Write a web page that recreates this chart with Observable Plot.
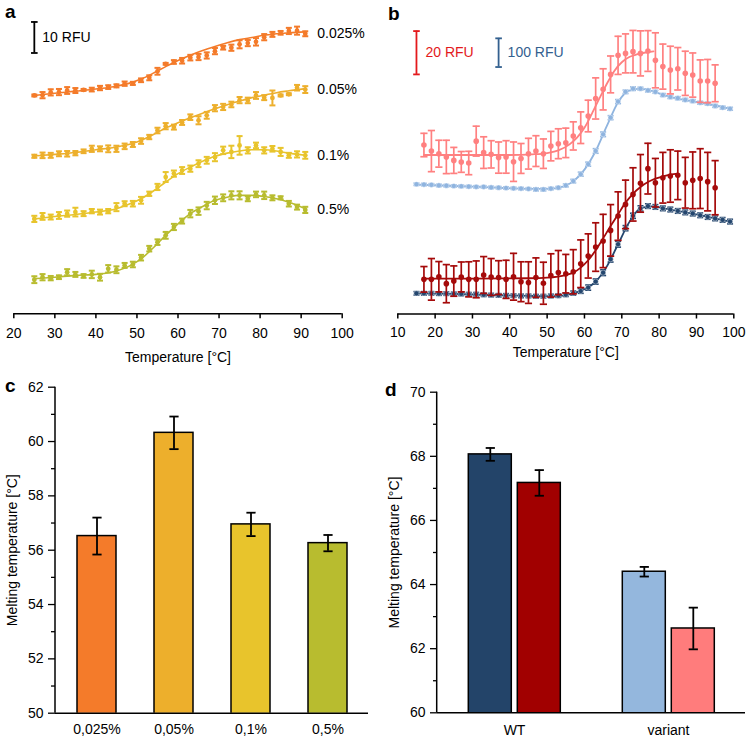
<!DOCTYPE html>
<html><head><meta charset="utf-8">
<script src="https://cdn.jsdelivr.net/npm/d3@7"></script>
<script src="https://cdn.jsdelivr.net/npm/@observablehq/plot@0.6"></script>
<style>
body{margin:0;background:#fff;font-family:"Liberation Sans",Arial,sans-serif;}
#wrap{position:relative;width:750px;height:742px;overflow:hidden;background:#fff;}
.panel{position:absolute;}
.letter{position:absolute;font-weight:bold;font-size:19px;line-height:19px;color:#000;}
</style></head><body>
<div id="wrap">
  <div class="panel" id="pa" style="left:0;top:0"></div>
  <div class="panel" id="pb" style="left:375px;top:0"></div>
  <div class="panel" id="pc" style="left:0;top:370px"></div>
  <div class="panel" id="pd" style="left:375px;top:370px"></div>
  <div class="letter" style="left:5px;top:2px">a</div>
  <div class="letter" style="left:388px;top:4px">b</div>
  <div class="letter" style="left:5px;top:376px">c</div>
  <div class="letter" style="left:385px;top:380px">d</div>
</div>
<script>
// ---------- Panel a data (RFU, stacked as displayed) ----------
const concA = ["0.025%", "0.05%", "0.1%", "0.5%"];
const tempsA = [25,27,29,31,33,35,37,39,41,43,45,47,49,51,53,55,57,59,61,63,65,67,69,71,73,75,77,79,81,83,85,87,89,91];
const a025 = [70.4,70.5,71.4,71.5,72.0,72.0,72.2,72.3,72.8,73.1,73.5,74.2,74.3,75.3,76.1,78.2,80.6,81.2,81.6,82.6,82.8,83.3,84.7,85.8,85.8,86.9,87.3,87.7,89.2,90.1,90.6,91.2,91.3,90.3];
const a05  = [50.8,51.1,51.1,51.6,51.6,51.8,52.4,53.2,53.2,53.2,53.2,54.0,54.6,55.7,57.0,59.1,60.5,60.2,61.7,63.4,62.4,64.0,66.3,66.7,67.5,68.9,68.8,70.4,69.7,69.6,70.4,70.8,72.9,72.3];
const a01  = [30.6,31.4,31.2,31.7,32.3,32.8,32.3,33.1,32.8,33.1,34.4,35.5,35.5,36.6,38.7,40.9,44.1,45.2,46.2,46.8,48.4,49.5,50.5,52.7,52.2,54.3,52.7,54.3,52.7,53.2,52.2,51.1,51.4,51.1];
const a5   = [11.0,11.8,11.5,11.8,13.4,12.7,12.2,12.7,11.8,14.5,14.2,15.6,15.9,18.1,21.0,23.1,25.3,28.0,29.9,32.3,33.1,34.9,36.6,37.4,38.2,38.2,37.1,38.5,38.2,37.4,37.4,35.5,34.4,33.5];
const e025 = [0.3,1.0,1.0,1.0,1.1,0.8,0.3,0.6,0.7,0.6,0.5,0.7,0.5,0.6,0.8,1.1,0.3,0.6,0.9,0.9,1.0,1.0,1.0,0.6,1.0,1.3,1.0,1.2,1.0,0.8,0.6,1.0,1.3,0.8];
const e05  = [0.5,0.9,0.8,0.8,0.9,0.7,0.6,1.0,0.8,1.1,1.0,0.9,0.8,0.9,0.7,0.9,1.0,0.8,0.8,0.9,1.3,1.1,1.0,1.0,0.9,1.0,0.9,1.1,0.8,2.4,0.3,0.3,0.9,1.1];
const e01  = [1.0,1.1,0.8,1.1,1.0,1.4,0.8,0.7,0.8,0.7,1.3,0.8,0.9,1.1,0.7,1.0,1.6,1.0,1.1,1.0,1.1,1.1,1.3,1.2,2.0,3.0,1.0,0.9,1.0,0.9,1.3,0.8,1.0,1.1];
const e5   = [1.1,1.0,0.7,0.6,1.0,0.8,0.6,1.2,1.1,1.2,1.1,0.8,0.9,0.9,0.9,0.9,1.1,1.0,0.8,1.2,1.2,1.2,1.2,1.1,1.3,1.3,0.8,0.9,1.2,0.8,0.5,0.9,0.8,1.0];
const fitTA  = [25,30,35,40,45,48,51,54,57,60,63,66,69,72,75,78,81,84,87,91];
const fit025 = [70.4,71.1,71.8,72.5,73.4,74.3,75.7,77.6,79.7,81.7,83.4,84.9,86.2,87.4,88.4,89.1,89.8,90.3,90.6,90.9];
const fit05  = [50.9,51.4,52.0,52.9,53.8,54.6,55.9,57.8,59.9,61.6,63.2,64.7,66.1,67.4,68.6,69.7,70.5,71.3,71.9,72.6];
const fit01  = [30.6,31.4,32.0,32.8,33.9,35.3,37.1,39.6,42.5,45.2,47.3,49.2,50.8,51.8,52.5,52.9,52.9,52.5,51.8,51.1];
const fit5   = [11.3,11.8,12.4,12.7,13.8,15.3,17.7,21.3,25.3,29.0,32.3,34.6,36.6,37.6,38.2,38.2,37.8,37.1,36.0,33.9];
const ticksA = [20,30,40,50,60,70,80,90,100];
const scaleBarA = {t: 25, base: 84.1, len: 10, label: "10 RFU"};

// ---------- Panel b data ----------
const tempsBred  = [17,19,21,23,25,27,29,31,33,35,37,39,41,43,45,47,49,51,53,55,57,59,61,63,65,67,69,71,73,75,77,79,81,83,85,87,89,91,93,95];
const tempsBblue = [15,17,19,21,23,25,27,29,31,33,35,37,39,41,43,45,47,49,51,53,55,57,59,61,63,65,67,69,71,73,75,77,79,81,83,85,87,89,91,93,95,97,99];
// red dye (20 RFU scale bar)
const redVariant = [78.0,75.2,74.0,72.5,70.9,70.2,69.7,79.8,74.5,73.7,72.2,72.5,70.3,71.8,74.0,75.2,74.0,77.5,78.6,79.0,82.2,86.0,91.4,99.5,103.7,110.6,119.4,120.3,121.1,120.3,121.4,117.1,114.2,112.6,113.2,111.1,110.3,107.5,107.5,106.5];
const redVariantErr = [5.4,9.5,6.2,7.7,6.0,4.8,5.4,6.9,7.3,6.3,7.2,7.5,9.1,6.9,7.1,7.1,6.8,6.8,6.9,6.8,6.5,7.3,7.3,9.5,9.5,8.5,8.8,9.0,9.8,10.4,9.4,12.7,10.4,11.0,9.8,10.2,10.2,9.8,10.0,8.5];
const redWT = [16.0,16.0,17.2,14.0,15.2,17.1,16.0,16.0,18.0,17.1,16.8,16.0,17.2,14.9,14.5,16.8,14.2,17.8,19.1,18.6,19.5,23.2,26.8,30.9,33.7,38.6,45.2,50.6,55.2,60.3,67.1,60.6,62.9,63.7,64.0,60.6,61.7,62.5,61.1,58.3];
const redWTErr = [5.9,9.6,7.0,8.8,7.0,6.9,8.1,8.5,8.5,8.5,7.8,8.8,10.8,9.2,9.6,9.1,9.7,10.0,10.2,8.9,10.2,11.0,10.2,11.2,12.3,11.9,11.2,11.2,12.3,13.3,11.7,11.2,11.7,12.1,11.2,11.7,13.1,13.8,13.5,12.5];
// blue dye (100 RFU scale bar)
const blueVariant = [452,451,450,448,447,446,445,444,443,443,441,440,439,438,437,436,434,434,437,440,448,463,487,522,568,626,684,740,774,785,785,779,774,763,756,752,746,742,736,733,725,719,715];
const blueVariantErr = [4,4,4,4,4,4,4,4,4,4,4,4,4,4,4,4,5,5,4,4,5,6,7,7,8,8,7,7,6,6,5,5,5,5,5,5,5,5,5,5,5,5,5];
const blueWT = [72,72,72,71,71,70,70,69,69,67,66,65,65,64,63,63,62,62,63,64,67,73,80,92,113,144,191,243,299,342,368,376,373,368,364,359,354,350,344,338,333,328,322];
const blueWTErr = [6,6,6,6,6,6,6,6,6,6,6,6,6,6,6,6,6,6,6,6,6,7,8,9,9,10,10,10,9,9,9,8,8,8,8,8,8,8,8,8,8,8,8];
const fitTredVariant = [17,30,40,46,50,53,56,58,60,62,64,66,68,70,72,74,76,78.5];
const fitRedVariant  = [73.4,73.4,73.4,73.7,74.3,75.5,78.3,81.4,86.0,92.5,99.5,106.3,112.2,116.2,118.6,119.8,120.6,121.2];
const fitTredWT = [17,30,45,50,55,57,59,61,63,65,67,69,71,73,75,77,79,81,83,85];
const fitRedWT  = [16.3,16.3,16.5,16.8,18.0,19.1,21.4,24.8,29.4,34.9,40.6,46.0,51.4,55.5,58.6,60.9,62.5,63.5,64.3,64.8];
const fitTblue = [15,25,35,45,50,54,57,60,63,66,69,72,75,78,82,86,90,94,99];
const fitBlueVariant = [451,446,441,436,436,443,462,503,568,655,738,778,785,777,760,748,739,729,715];
const fitBlueWT      = [72,70,66,63,62,64,72,86,113,166,243,320,368,375,366,357,347,336,322];
const blueToRed = 0.1325; // 100 blue RFU bar vs 20 red RFU bar
const ticksB = [10,20,30,40,50,60,70,80,90,100];
const scaleBarsB = [
  {label: "20 RFU", t: 15, base: 110.6, len: 20, dye: "red"},
  {label: "100 RFU", t: 37, base: 114.0, len: 100, dye: "blue"}
];

// ---------- Panel c data ----------
const concC = ["0,025%", "0,05%", "0,1%", "0,5%"];
const tmC = [56.52, 60.32, 56.95, 56.26];
const sdC = [0.68, 0.60, 0.43, 0.30];
const ticksCmajor = [50,52,54,56,58,60,62];
const ticksCminor = [51,53,55,57,59,61];

// ---------- Panel d data ----------
const proteinsD = ["WT", "variant"];
const dyesD = ["blue dye", "red dye"];
const tmD = {"WT": [68.06, 67.17], "variant": [64.40, 62.63]};
const sdD = {"WT": [0.20, 0.40], "variant": [0.15, 0.65]};
const ticksDmajor = [60,62,64,66,68,70];
const ticksDminor = [61,63,65,67,69];

// ---------- styles ----------
const FONT = "Liberation Sans, Arial, Helvetica, sans-serif";
const FS = 14;
const colorsA = ["#F47B2A", "#EDAF2C", "#E8C42C", "#B8BC2F"];
const seriesBnames = ["variant blue", "WT blue", "variant red", "WT red"];
const colorsB = ["#8FB4DF", "#24466E", "#FF8080", "#A50A0A"];
const colorsD = ["#234469", "#A10000", "#94B7DD", "#FF7C7C"];
const capSym = {draw(ctx, size) { const w = Math.sqrt(size / Math.PI); ctx.moveTo(-w, 0); ctx.lineTo(w, 0); }};
const baseStyle = {fontFamily: FONT, fontSize: FS + "px", color: "#000", background: "transparent"};

function errorMarks(data, {x, y, e, stroke, strokeWidth = 1.5, r = 3, extra = {}}) {
  const lo = d => d[y] - d[e], hi = d => d[y] + d[e];
  return [
    Plot.ruleX(data, {x, y1: lo, y2: hi, stroke, strokeWidth, ...extra}),
    Plot.dot(data, {x, y: hi, symbol: capSym, r, stroke, fill: "none", strokeWidth, ...extra}),
    Plot.dot(data, {x, y: lo, symbol: capSym, r, stroke, fill: "none", strokeWidth, ...extra})
  ];
}
function yAxisLine(svg, ml, mt, mb, h) {
  d3.select(svg).append("line").attr("x1", ml).attr("x2", ml).attr("y1", mt).attr("y2", h - mb)
    .attr("stroke", "#000").attr("stroke-width", 1.5);
}

// ---------- Panel a ----------
{
  const seriesA = [a025, a05, a01, a5], errA = [e025, e05, e01, e5], fitsA = [fit025, fit05, fit01, fit5];
  const rows = concA.flatMap((c, i) => tempsA.map((t, j) => ({conc: c, t, v: seriesA[i][j], e: errA[i][j]})));
  const fits = concA.flatMap((c, i) => fitTA.map((t, j) => ({conc: c, t, v: fitsA[i][j]})));
  const last = tempsA.length - 1;
  const labels = concA.map((c, i) => ({conc: c, t: tempsA[last], v: seriesA[i][last]}));
  const sb = [scaleBarA];
  const svg = Plot.plot({
    width: 375, height: 365, marginLeft: 13.3, marginRight: 33.3, marginTop: 10, marginBottom: 51.7,
    style: baseStyle,
    x: {domain: [20, 100]},
    y: {domain: [0, 97.8], axis: null},
    color: {domain: concA, range: colorsA},
    marks: [
      Plot.ruleY([0], {stroke: "#000", strokeWidth: 1.5}),
      Plot.axisX({ticks: ticksA, tickSize: 5, tickPadding: 9, strokeWidth: 1.5, fontSize: FS, label: "Temperature [°C]", labelAnchor: "center", labelArrow: "none", labelOffset: 48}),
      Plot.line(fits, {x: "t", y: "v", z: "conc", stroke: "conc", strokeWidth: 1.6, curve: "monotone-x"}),
      ...errorMarks(rows, {x: "t", y: "v", e: "e", stroke: "conc", strokeWidth: 2, r: 3}),
      Plot.dot(rows, {x: "t", y: "v", r: 2.4, fill: "conc"}),
      Plot.text(labels, {x: "t", y: "v", text: "conc", dx: 12, textAnchor: "start", fill: "#000", fontSize: FS}),
      Plot.ruleX(sb, {x: "t", y1: "base", y2: d => d.base + d.len, stroke: "#000", strokeWidth: 1.8}),
      Plot.dot(sb, {x: "t", y: "base", symbol: capSym, r: 3.3, stroke: "#000", strokeWidth: 1.8}),
      Plot.dot(sb, {x: "t", y: d => d.base + d.len, symbol: capSym, r: 3.3, stroke: "#000", strokeWidth: 1.8}),
      Plot.text(sb, {x: "t", y: d => d.base + d.len / 2, text: "label", dx: 8, textAnchor: "start", fill: "#000", fontSize: FS})
    ]
  });
  document.getElementById("pa").append(svg);
}

// ---------- Panel b ----------
{
  const series = [
    {name: "variant blue", temps: tempsBblue, vals: blueVariant, err: blueVariantErr, k: blueToRed},
    {name: "WT blue", temps: tempsBblue, vals: blueWT, err: blueWTErr, k: blueToRed},
    {name: "variant red", temps: tempsBred, vals: redVariant, err: redVariantErr, k: 1},
    {name: "WT red", temps: tempsBred, vals: redWT, err: redWTErr, k: 1}
  ];
  const fitsDef = [
    {name: "variant blue", temps: fitTblue, vals: fitBlueVariant, k: blueToRed},
    {name: "WT blue", temps: fitTblue, vals: fitBlueWT, k: blueToRed},
    {name: "variant red", temps: fitTredVariant, vals: fitRedVariant, k: 1},
    {name: "WT red", temps: fitTredWT, vals: fitRedWT, k: 1}
  ];
  const rowsBlue = [], rowsRed = [];
  series.forEach(s => s.temps.forEach((t, j) => (s.k === 1 ? rowsRed : rowsBlue).push({series: s.name, t, v: s.vals[j] * s.k, e: s.err[j] * s.k})));
  const fits = fitsDef.flatMap(s => s.temps.map((t, j) => ({series: s.name, t, v: s.vals[j] * s.k})));
  const sb = scaleBarsB.map(d => ({...d, disp: d.len * (d.dye === "blue" ? blueToRed : 1)}));
  const sbColor = d => d.dye === "red" ? "#E3191C" : "#33608F";
  const svg = Plot.plot({
    width: 375, height: 365, marginLeft: 22.3, marginRight: 16.7, marginTop: 10, marginBottom: 51.5,
    style: baseStyle,
    x: {domain: [10, 100]},
    y: {domain: [0, 140.1], axis: null},
    color: {domain: seriesBnames, range: colorsB},
    marks: [
      Plot.ruleY([0], {stroke: "#000", strokeWidth: 1.5}),
      Plot.axisX({ticks: ticksB, tickSize: 5, tickPadding: 8, strokeWidth: 1.5, fontSize: FS, label: "Temperature [°C]", labelAnchor: "center", labelArrow: "none", labelOffset: 43}),
      Plot.line(fits, {x: "t", y: "v", z: "series", stroke: "series", strokeWidth: 1.8, curve: "monotone-x"}),
      ...errorMarks(rowsBlue, {x: "t", y: "v", e: "e", stroke: "series", strokeWidth: 1.6, r: 3}),
      Plot.dot(rowsBlue, {x: "t", y: "v", r: 2.6, fill: "series", stroke: "white", strokeWidth: 0.4}),
      ...errorMarks(rowsRed, {x: "t", y: "v", e: "e", stroke: "series", strokeWidth: 1.7, r: 3.6}),
      Plot.dot(rowsRed, {x: "t", y: "v", r: 2.8, fill: "series"}),
      Plot.ruleX(sb, {x: "t", y1: "base", y2: d => d.base + d.disp, stroke: sbColor, strokeWidth: 1.8}),
      Plot.dot(sb, {x: "t", y: "base", symbol: capSym, r: 3.3, stroke: sbColor, strokeWidth: 1.8}),
      Plot.dot(sb, {x: "t", y: d => d.base + d.disp, symbol: capSym, r: 3.3, stroke: sbColor, strokeWidth: 1.8}),
      Plot.text(sb, {x: "t", y: d => d.base + d.disp / 2, text: "label", dx: 9, textAnchor: "start", fill: sbColor, fontSize: FS})
    ]
  });
  document.getElementById("pb").append(svg);
}

// ---------- Panel c ----------
{
  const rows = concC.map((c, i) => ({conc: c, tm: tmC[i], sd: sdC[i]}));
  const W = 375, H = 372, ML = 55, MR = 7, MT = 16.7, MB = 29.3;
  const svg = Plot.plot({
    width: W, height: H, marginLeft: ML, marginRight: MR, marginTop: MT, marginBottom: MB,
    style: baseStyle,
    x: {domain: concC, paddingInner: 0.5, paddingOuter: 0.26, axis: null},
    y: {domain: [50, 62], axis: null},
    color: {domain: concC, range: colorsA},
    marks: [
      Plot.barY(rows, {x: "conc", y: "tm", fill: "conc", stroke: "#000", strokeWidth: 1.5, clip: true}),
      ...errorMarks(rows, {x: "conc", y: "tm", e: "sd", stroke: "#000", strokeWidth: 1.8, r: 4.6}),
      Plot.ruleY([50], {stroke: "#000", strokeWidth: 1.5}),
      Plot.axisY({ticks: ticksCmajor, tickSize: 7, tickPadding: 5, strokeWidth: 1.3, fontSize: FS, label: "Melting temperature [°C]", labelAnchor: "center", labelArrow: "none", labelOffset: 48}),
      Plot.axisY({ticks: ticksCminor, tickSize: 4, tickFormat: () => "", strokeWidth: 1.3, label: null}),
      Plot.axisX({tickSize: 0, tickPadding: 11, fontSize: FS, label: null})
    ]
  });
  yAxisLine(svg, ML, MT, MB, H);
  document.getElementById("pc").append(svg);
}

// ---------- Panel d ----------
{
  const rows = proteinsD.flatMap(p => dyesD.map((dy, j) => ({protein: p, dye: dy, key: p + " " + dy, tm: tmD[p][j], sd: sdD[p][j]})));
  const keys = ["WT blue dye", "WT red dye", "variant blue dye", "variant red dye"];
  const W = 375, H = 372, ML = 61.7, MR = 5, MT = 21.7, MB = 29.7;
  const svg = Plot.plot({
    width: W, height: H, marginLeft: ML, marginRight: MR, marginTop: MT, marginBottom: MB,
    style: baseStyle,
    facet: {data: rows, x: "protein"},
    fx: {domain: proteinsD, padding: 0, axis: null, label: null},
    x: {domain: dyesD, paddingInner: 0.12, paddingOuter: 0.62, axis: null},
    y: {domain: [60, 70], axis: null},
    color: {domain: keys, range: colorsD},
    marks: [
      Plot.barY(rows, {x: "dye", y: "tm", fill: "key", stroke: "#000", strokeWidth: 1.5, clip: true}),
      ...errorMarks(rows, {x: "dye", y: "tm", e: "sd", stroke: "#000", strokeWidth: 1.8, r: 4.6}),
      Plot.ruleY([60], {stroke: "#000", strokeWidth: 1.5}),
      Plot.axisY({ticks: ticksDmajor, tickSize: 7, tickPadding: 5, strokeWidth: 1.3, fontSize: FS, label: "Melting temperature [°C]", labelAnchor: "center", labelArrow: "none", labelOffset: 48}),
      Plot.axisY({ticks: ticksDminor, tickSize: 4, tickFormat: () => "", strokeWidth: 1.3, label: null}),
      Plot.axisFx({anchor: "bottom", tickSize: 0, tickPadding: 12, fontSize: FS, label: null})
    ]
  });
  yAxisLine(svg, ML, MT, MB, H);
  document.getElementById("pd").append(svg);
}
</script>
</body></html>
